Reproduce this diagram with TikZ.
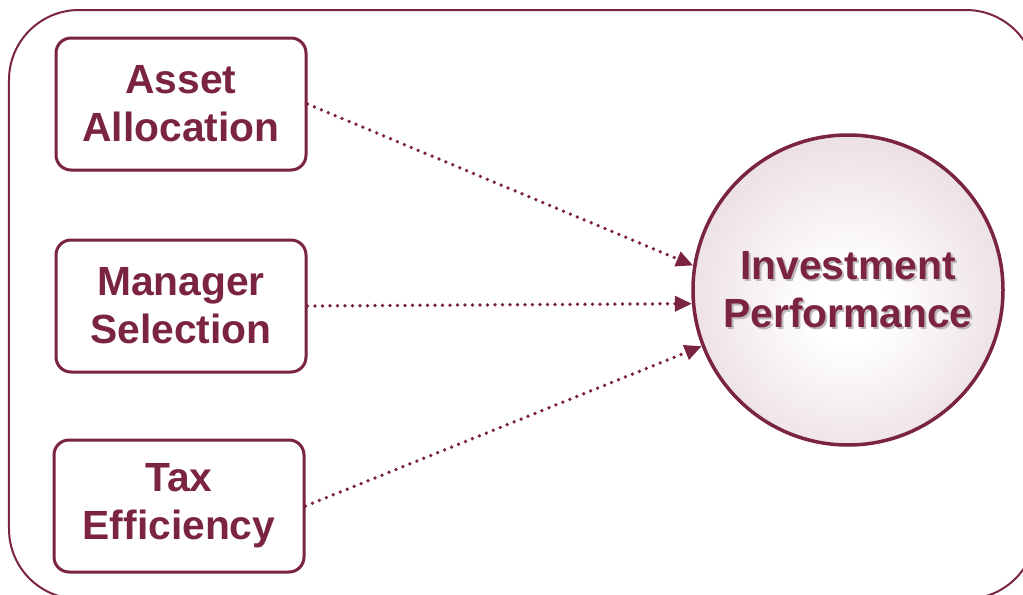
\documentclass[tikz,border=0pt]{standalone}
\usepackage{fontspec}
\setmainfont{Liberation Sans}
\usetikzlibrary{arrows.meta, positioning}

\definecolor{maroon}{RGB}{122,36,66}
\definecolor{mauve}{RGB}{214,188,199}
\definecolor{shade}{RGB}{190,183,186}
% soft glow for the result circle
\pgfdeclareradialshading{perfglow}{\pgfpoint{0bp}{-3bp}}{color(0bp)=(white); color(6bp)=(white); color(50bp)=(mauve)}

\begin{document}
\begin{tikzpicture}[
  bigtext/.style={font=\fontsize{23.2}{27.4}\selectfont\bfseries, align=center},
  factor/.style={bigtext, draw=maroon, text=maroon, line width=0.06cm, rounded corners=0.3cm, minimum width=5cm, minimum height=2.64cm},
  link/.style={maroon, line width=0.075cm, line cap=round, dash pattern=on 0pt off 0.15cm, -{Triangle[length=0.34cm, width=0.3cm]}}
]
\useasboundingbox (0,0) rectangle (20.46,11.88);

% outer frame
\draw[maroon, line width=0.04cm, rounded corners=1.4cm] (0.18,-0.1) rectangle (20.72,11.68);

% the three drivers
\node[factor] (asset) at (3.62, 9.8) {Asset\\Allocation};
\node[factor] (manager) at (3.62, 5.76) {Manager\\Selection};
\node[factor] (tax) at (3.58, 1.76) {Tax\\Efficiency};

% result
\node[circle, draw=maroon, line width=0.07cm, shading=perfglow, minimum size=6.2cm] (perf) at (16.96, 6.08) {};
\node[bigtext, text=shade] (perfshade) at ([shift={(0.04,-0.04)}]perf.center) {Investment\\Performance};
\node[bigtext, text=maroon] (perftext) at (perf.center) {Investment\\Performance};

\draw[link] (asset.east) -- (perf.171);
\draw[link] (manager.east) -- (perf.185);
\draw[link] (tax.east) -- (perf.201);

\end{tikzpicture}
\end{document}
